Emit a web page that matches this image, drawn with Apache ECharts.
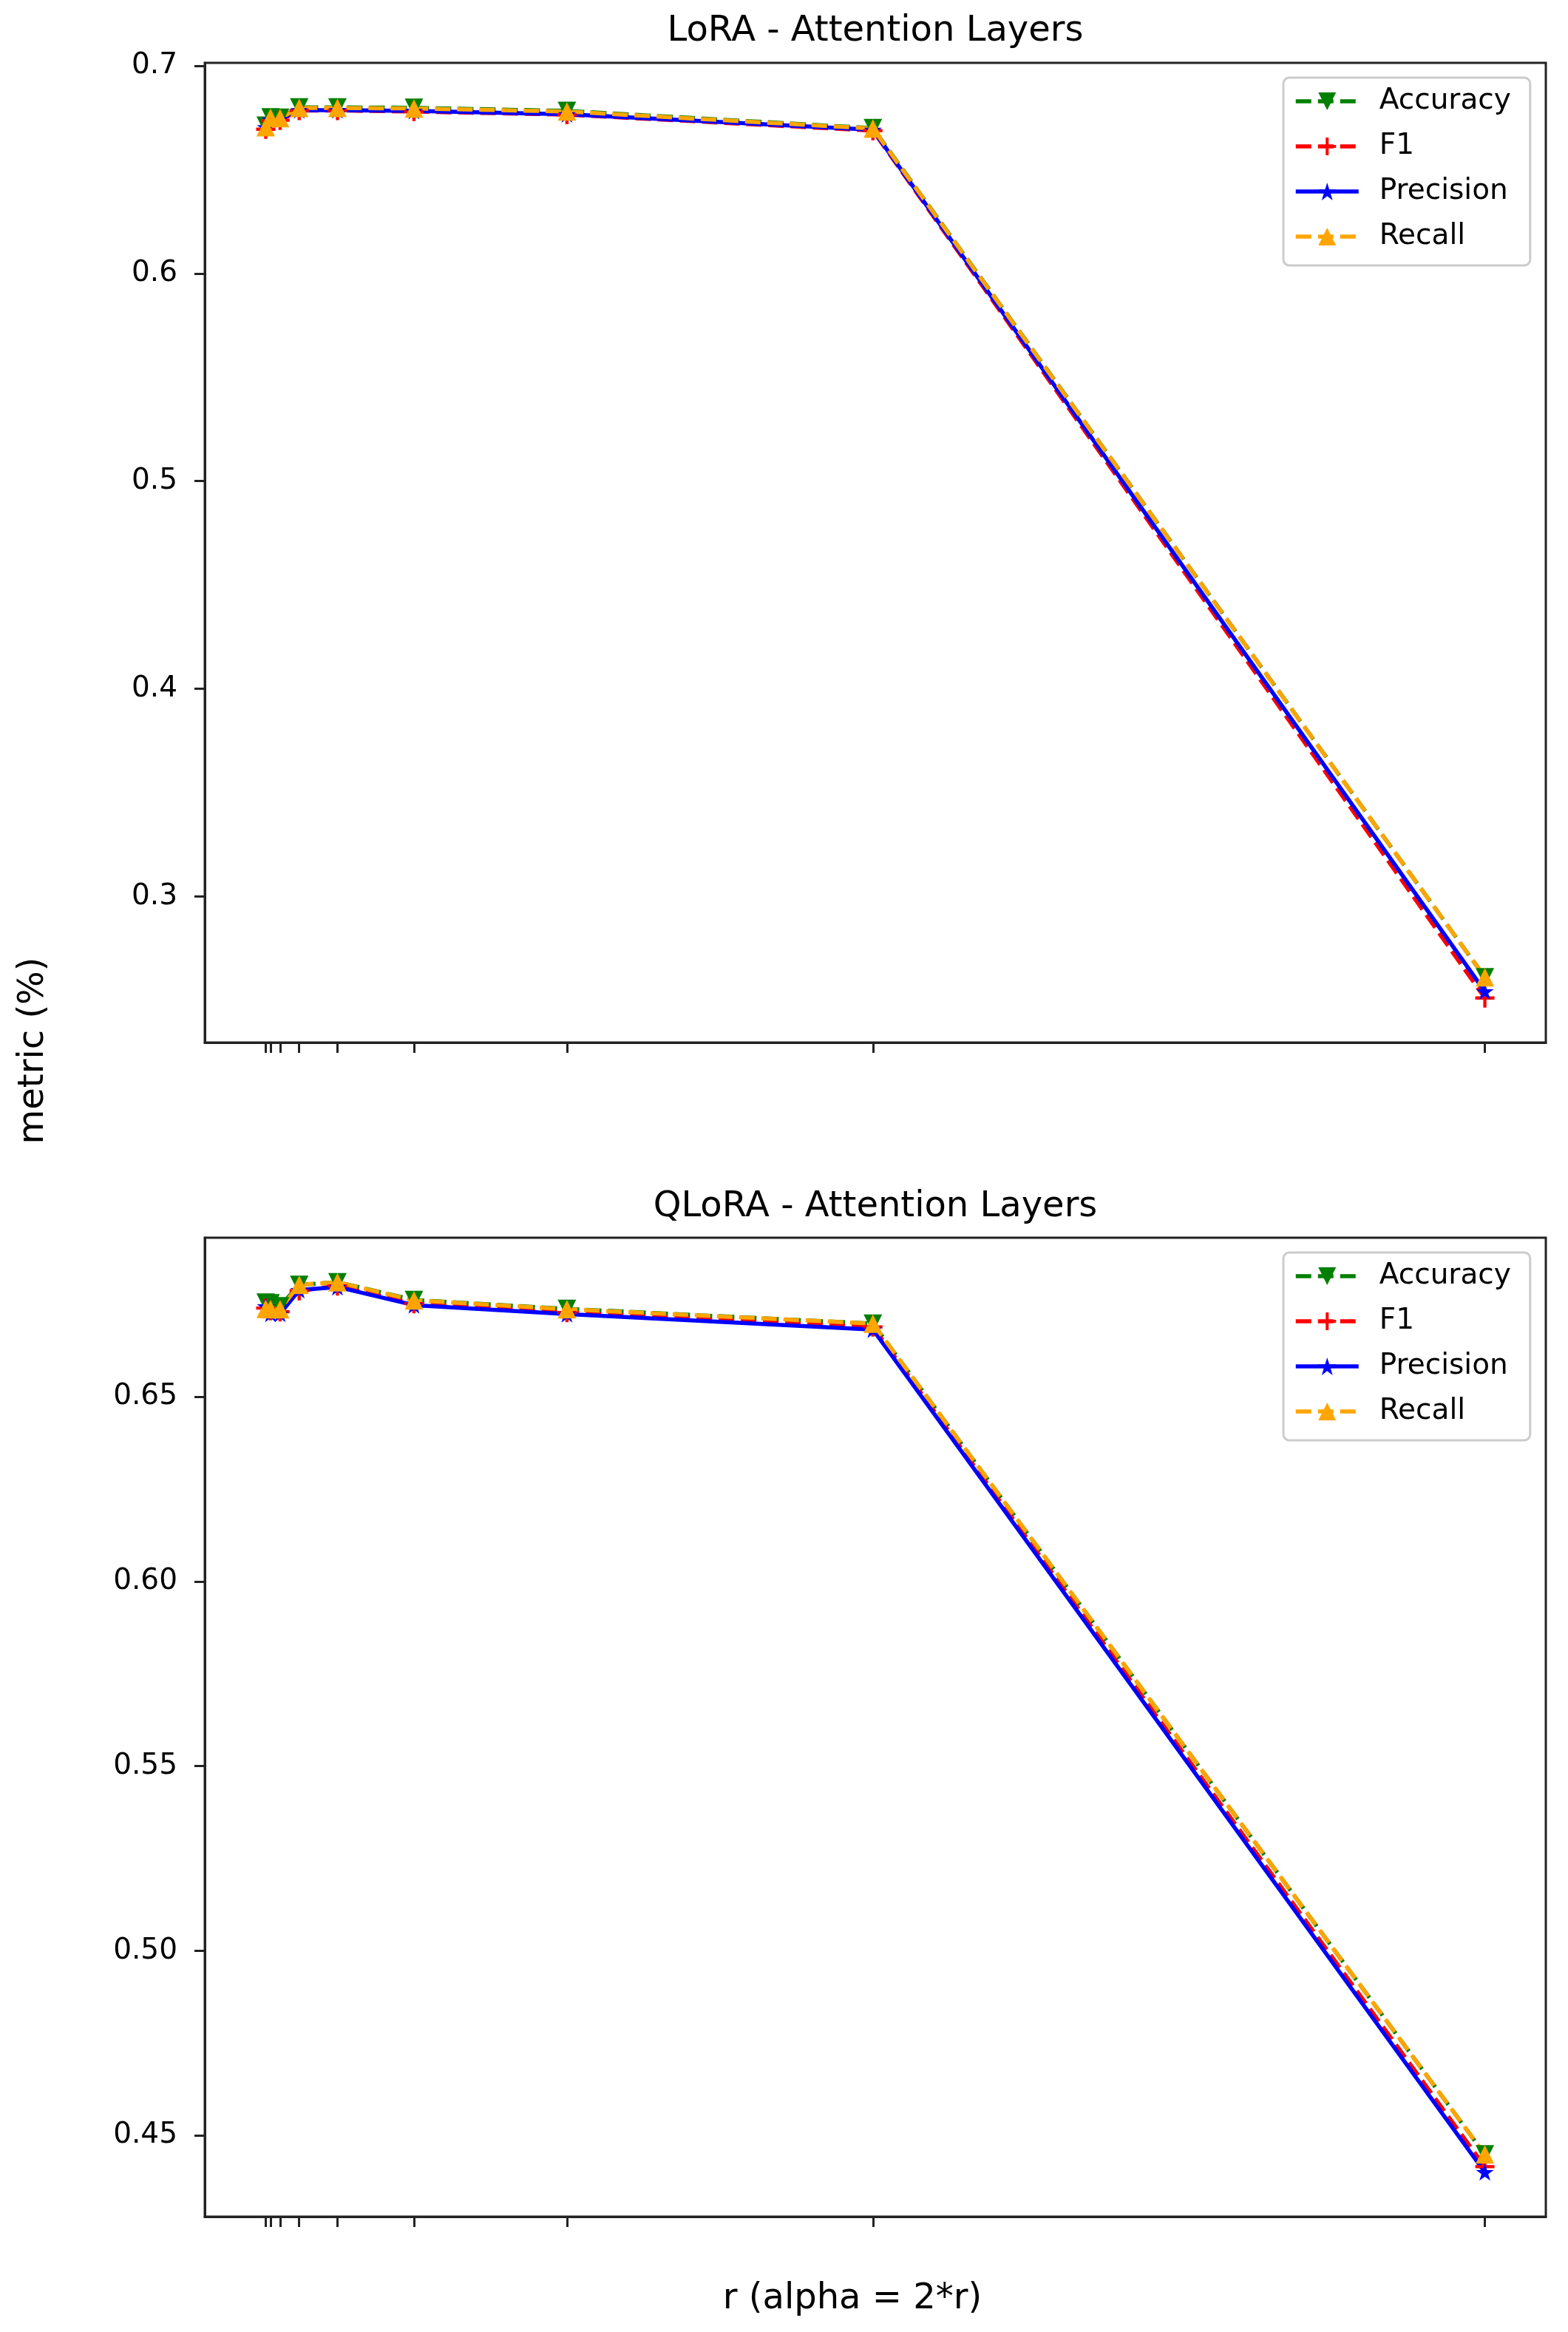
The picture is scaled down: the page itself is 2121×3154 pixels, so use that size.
<!DOCTYPE html>
<html><head><meta charset="utf-8">
<script src="https://cdn.jsdelivr.net/npm/echarts@6/dist/echarts.min.js"></script>
<style>html,body{margin:0;padding:0;background:#fff}#c{width:2121px;height:3154px}</style>
</head><body><div id="c"></div>
<script>
// ---- data ----
const rValues = [1, 2, 4, 8, 16, 32, 64, 128, 256];
const seriesNames = ['Accuracy', 'F1', 'Precision', 'Recall'];

const loraAccuracy  = [0.6712, 0.6752, 0.6750, 0.6800, 0.6800, 0.6798, 0.6783, 0.6700, 0.2611];
const loraF1        = [0.6695, 0.6735, 0.6738, 0.6785, 0.6785, 0.6780, 0.6765, 0.6688, 0.2511];
const loraPrecision = [0.6705, 0.6742, 0.6745, 0.6787, 0.6787, 0.6783, 0.6767, 0.6692, 0.2543];
const loraRecall    = [0.6705, 0.6750, 0.6748, 0.6797, 0.6797, 0.6795, 0.6780, 0.6698, 0.2611];

const qloraAccuracy  = [0.6755, 0.6753, 0.6745, 0.6803, 0.6810, 0.6762, 0.6738, 0.6698, 0.4449];
const qloraF1        = [0.6740, 0.6733, 0.6730, 0.6787, 0.6800, 0.6752, 0.6728, 0.6689, 0.4416];
const qloraPrecision = [0.6745, 0.6725, 0.6725, 0.6789, 0.6797, 0.6748, 0.6724, 0.6682, 0.4401];
const qloraRecall    = [0.6738, 0.6737, 0.6737, 0.6803, 0.6810, 0.6761, 0.6737, 0.6698, 0.4449];

const loraYTicks  = [0.3, 0.4, 0.5, 0.6, 0.7];
const qloraYTicks = [0.45, 0.50, 0.55, 0.60, 0.65];

const titles = ['LoRA - Attention Layers', 'QLoRA - Attention Layers'];
const xLabel = 'r (alpha = 2*r)';
const yLabel = 'metric (%)';

// ---- helpers ----
function padded(arrs) {
  let lo = Infinity, hi = -Infinity;
  arrs.forEach(a => a.forEach(v => { lo = Math.min(lo, v); hi = Math.max(hi, v); }));
  const m = (hi - lo) * 0.05;
  return [lo - m, hi + m];
}
const FONT = 'DejaVu Sans';
const INK = '#222';
const xr = padded([rValues]);
const loraR = padded([loraAccuracy, loraF1, loraPrecision, loraRecall]);
const qloraR = padded([qloraAccuracy, qloraF1, qloraPrecision, qloraRecall]);

const starPath = 'path://M100,0 L122.45,69.1 L195.1,69.1 L136.33,111.8 L158.8,180.9 L100,138.2 L41.2,180.9 L63.67,111.8 L4.9,69.1 L77.55,69.1 Z';
const downTri = 'path://M0,0 L200,0 L100,200 Z';
const plusPath = 'path://M10,0 L14,0 L14,10 L24,10 L24,14 L14,14 L14,24 L10,24 L10,14 L0,14 L0,10 L10,10 Z';

const styles = {
  Accuracy:  {color: '#008000', dash: [21, 9], symbol: downTri, size: 25},
  F1:        {color: '#ff0000', dash: [21, 9], symbol: plusPath, size: 26},
  Precision: {color: '#0000ff', dash: 'solid', symbol: starPath, size: [24, 23]},
  Recall:    {color: '#ffa500', dash: [21, 9], symbol: 'triangle', size: 25}
};

function mk(name, vals, gi) {
  const s = styles[name];
  return {
    name: name, type: 'line', xAxisIndex: gi, yAxisIndex: gi,
    data: rValues.map((r, i) => [r, vals[i]]),
    symbol: s.symbol, symbolSize: s.size, showSymbol: true,
    itemStyle: {color: s.color, borderWidth: 0},
    lineStyle: {color: s.color, width: 5.5, type: s.dash},
    emphasis: {disabled: true}, silent: true, z: 2
  };
}

const grids = [
  {left: 277, top: 85, width: 1814, height: 1325},
  {left: 277, top: 1674, width: 1814, height: 1324}
];

function xAx(gi) {
  return {
    gridIndex: gi, type: 'value', min: xr[0], max: xr[1],
    axisLine: {show: true, onZero: false, lineStyle: {color: INK, width: 3}},
    axisTick: {show: true, customValues: rValues, length: 14, lineStyle: {color: INK, width: 3}},
    axisLabel: {show: false},
    splitLine: {show: false}
  };
}
function yAx(gi, range, ticks, dec) {
  return {
    gridIndex: gi, type: 'value', min: range[0], max: range[1],
    axisLine: {show: true, onZero: false, lineStyle: {color: INK, width: 3}},
    axisTick: {show: true, customValues: ticks, length: 14, lineStyle: {color: INK, width: 3}},
    axisLabel: {show: true, customValues: ticks, margin: 37, fontFamily: FONT, fontSize: 39, color: '#000',
      formatter: v => Number(v).toFixed(dec)},
    splitLine: {show: false}
  };
}
function legend(top) {
  return {
    data: seriesNames, orient: 'vertical', left: 1736, top: top,
    itemWidth: 85, itemHeight: 30, itemGap: 17,
    padding: [10, 26, 17, 14],
    backgroundColor: 'rgba(255,255,255,0.8)', borderColor: '#cccccc', borderWidth: 3, borderRadius: 8,
    lineStyle: {width: 5.5},
    textStyle: {fontFamily: FONT, fontSize: 39, color: '#000', lineHeight: 44, padding: [0, 0, 0, 23]},
    selectedMode: false
  };
}
function txt(text, x, y, size, rot) {
  return {
    type: 'text', x: x, y: y, rotation: rot || 0, silent: true,
    style: {text: text, fontFamily: FONT, fontSize: size, fill: '#000',
      align: 'center', verticalAlign: 'middle', textAlign: 'center', textVerticalAlign: 'middle'}
  };
}

const option = {
  backgroundColor: '#ffffff',
  animation: false,
  grid: grids.map(g => Object.assign({show: true, borderColor: INK, borderWidth: 3, backgroundColor: 'transparent'}, g)),
  xAxis: [xAx(0), xAx(1)],
  yAxis: [yAx(0, loraR, loraYTicks, 1), yAx(1, qloraR, qloraYTicks, 2)],
  legend: [legend(105), legend(1694)],
  series: [
    mk('Accuracy', loraAccuracy, 0), mk('F1', loraF1, 0), mk('Precision', loraPrecision, 0), mk('Recall', loraRecall, 0),
    mk('Accuracy', qloraAccuracy, 1), mk('F1', qloraF1, 1), mk('Precision', qloraPrecision, 1), mk('Recall', qloraRecall, 1)
  ],
  graphic: [
    txt(titles[0], 1184, 43, 48),
    txt(titles[1], 1184, 1633, 48),
    txt(xLabel, 1153, 3110, 48),
    txt(yLabel, 46, 1421, 48, Math.PI / 2)
  ]
};
const chart = echarts.init(document.getElementById('c'), null, {renderer: 'canvas'});
chart.setOption(option);
</script></body></html>
